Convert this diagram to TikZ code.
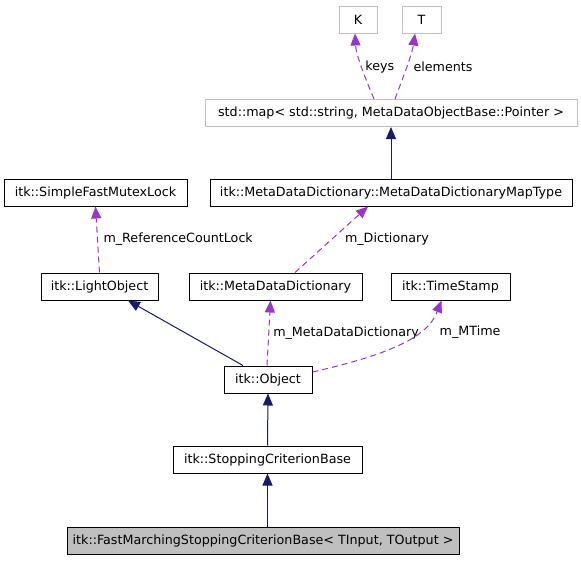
\documentclass[tikz,border=0pt]{standalone}
\usepackage{fontspec}
\setmainfont{DejaVu Sans}
\usetikzlibrary{arrows.meta, positioning}
\definecolor{inhblue}{HTML}{191970}
\definecolor{usepurple}{HTML}{9A32CD}
\definecolor{tmplgrey}{HTML}{BFBFBF}

\begin{document}
\begin{tikzpicture}[x=1pt, y=-1pt,
  every node/.style={font=\fontsize{12.7}{14}\selectfont},
  cls/.style={draw=black, line width=1pt, minimum height=27pt, inner sep=0pt},
  tmpl/.style={cls, draw=tmplgrey},
  cur/.style={cls, fill=tmplgrey},
  inh/.style={draw=inhblue, line width=1pt, -{Triangle[length=12pt, width=10pt]}},
  use/.style={draw=usepurple, line width=1pt, dash pattern=on 6pt off 4pt,
    -{Triangle[length=12pt, width=10pt]}},
  lbl/.style={anchor=west, inner sep=1pt}]
  \useasboundingbox (0,0) rectangle (581,560);
  \node[tmpl, minimum width=38pt] (K) at (358,19.5) {K};
  \node[tmpl, minimum width=39pt] (T) at (421.5,19.5) {T};
  \node[tmpl, minimum width=372pt] (map) at (391,113) {std::map< std::string, MetaDataObjectBase::Pointer >};
  \node[cls, minimum width=362pt] (maptype) at (391,192.5) {itk::MetaDataDictionary::MetaDataDictionaryMapType};
  \node[cls, minimum width=183pt] (mutex) at (95.5,192.5) {itk::SimpleFastMutexLock};
  \node[cls, minimum width=117pt] (light) at (99.5,286.5) {itk::LightObject};
  \node[cls, minimum width=173pt] (mdd) at (275.5,286.5) {itk::MetaDataDictionary};
  \node[cls, minimum width=119pt] (stamp) at (450.5,286.5) {itk::TimeStamp};
  \node[cls, minimum width=88pt] (object) at (268,379.5) {itk::Object};
  \node[cls, minimum width=189pt] (stop) at (267.5,459.5) {itk::StoppingCriterionBase};
  \node[cur, minimum width=392pt] (fm) at (263,540.5) {itk::FastMarchingStoppingCriterionBase< TInput, TOutput >};
  % inheritance
  \draw[inh] (fm.north -| stop.south) -- (stop.south);
  \draw[inh] (stop.north) -- (object.south);
  \draw[inh] ([xshift=-25pt]object.north) -- ([xshift=28.5pt]light.south);
  \draw[inh] (maptype.north) -- (map.south);
  % members
  \draw[use] ([xshift=-17pt]map.north) .. controls (366,80) and (356,55) .. ([xshift=-3pt]K.south)
    node[lbl, pos=0.5, xshift=2pt] {keys};
  \draw[use] ([xshift=4pt]map.north) .. controls (402,80) and (412,55) .. ([xshift=-6.5pt]T.south)
    node[lbl, pos=0.5, xshift=5.5pt] {elements};
  \draw[use] (light.north) -- (mutex.south)
    node[lbl, pos=0.5, xshift=4.5pt] {m\_ReferenceCountLock};
  \draw[use] ([xshift=19.5pt]mdd.north) -- ([xshift=-23pt]maptype.south)
    node[lbl, pos=0.5, xshift=12pt] {m\_Dictionary};
  \draw[use] ([xshift=-1pt]object.north) -- ([xshift=-5pt]mdd.south)
    node[lbl, pos=0.5, xshift=3pt] {m\_MetaDataDictionary};
  \draw[use] ([yshift=7.5pt]object.east) .. controls (410,350) and (430,330) .. ([xshift=-9pt]stamp.south)
    node[lbl, pos=0.6, xshift=19pt] {m\_MTime};
\end{tikzpicture}
\end{document}
